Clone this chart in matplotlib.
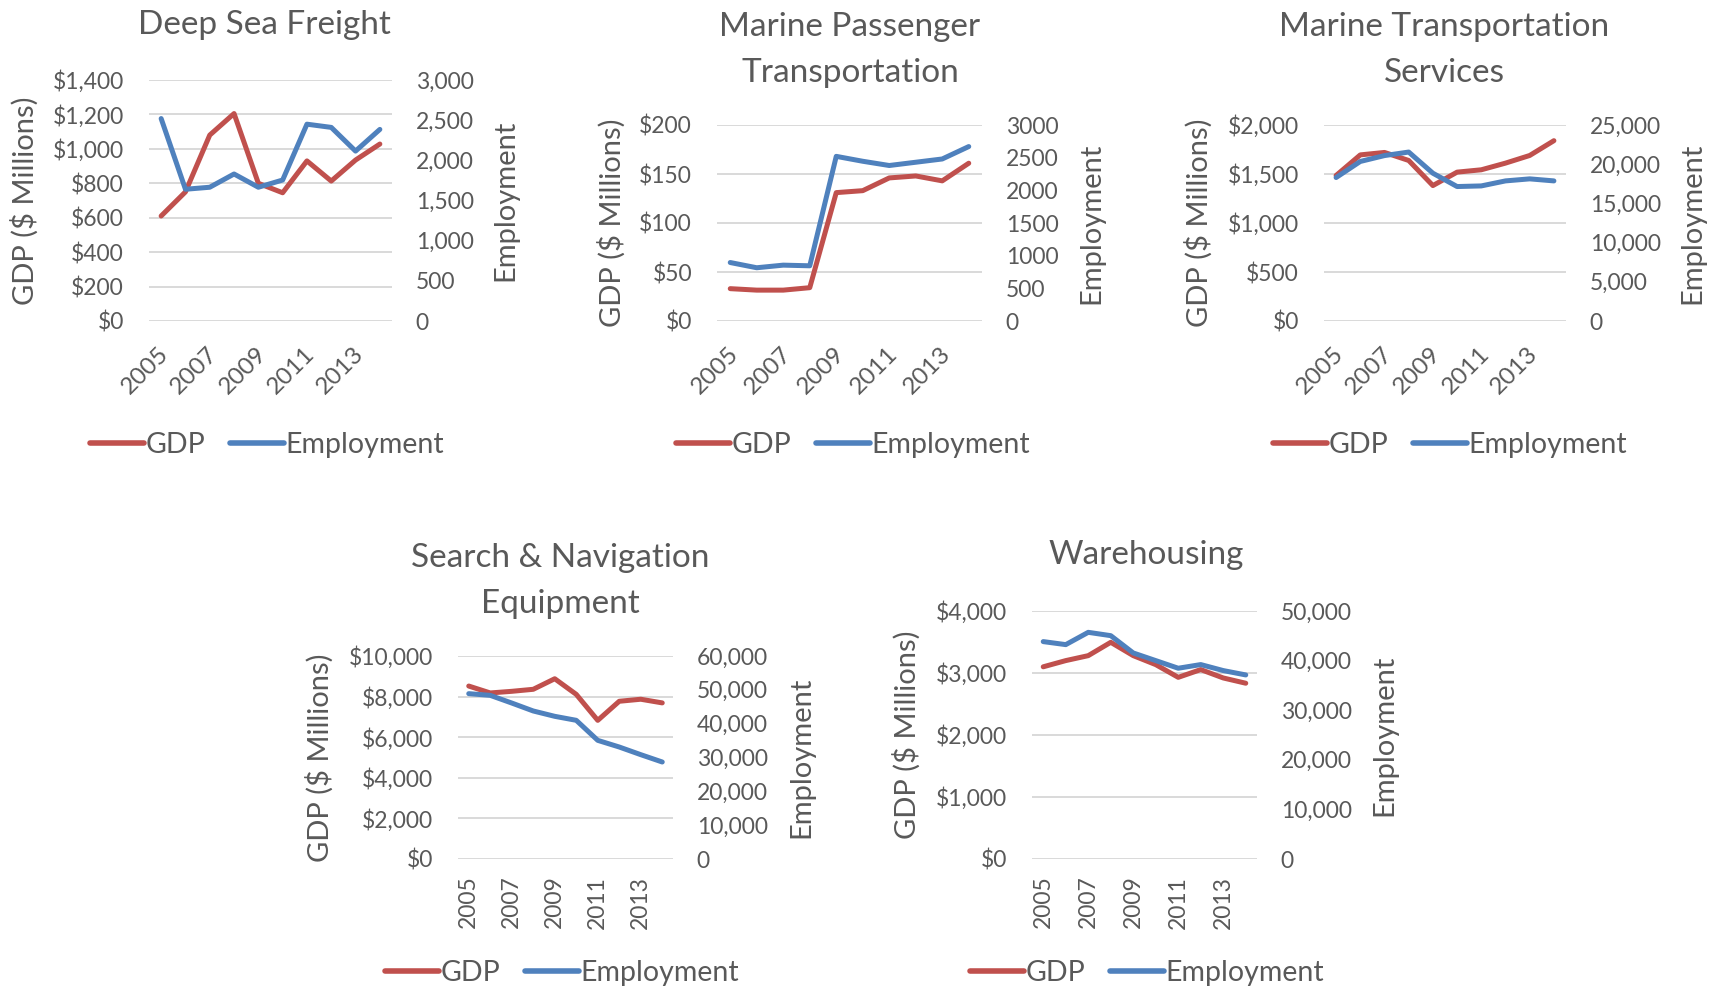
import numpy as np
import matplotlib
matplotlib.use("Agg")  # headless
import matplotlib.pyplot as plt
from matplotlib.ticker import FuncFormatter
from matplotlib.transforms import ScaledTranslation

years = list(range(2005, 2015))
year_labels = [str(y) if y % 2 == 1 else "" for y in years]

# GDP ($ millions) and employment per industry
deep_sea_gdp = [610, 750, 1080, 1205, 800, 745, 930, 813, 935, 1028]
deep_sea_emp = [2520, 1640, 1665, 1830, 1665, 1755, 2450, 2410, 2115, 2385]

passenger_gdp = [33, 31.5, 31.5, 34, 131, 133, 146, 148, 143, 161]
passenger_emp = [895, 815, 855, 845, 2520, 2445, 2380, 2430, 2480, 2670]

services_gdp = [1485, 1695, 1720, 1638, 1382, 1519, 1543, 1611, 1689, 1840]
services_emp = [18300, 20350, 21100, 21550, 18850, 17150, 17230, 17870, 18130, 17870]

search_gdp = [8520, 8180, 8260, 8360, 8880, 8110, 6830, 7770, 7870, 7690]
search_emp = [48870, 48370, 46100, 43750, 42170, 40990, 35070, 33100, 30840, 28670]

warehouse_gdp = [3100, 3200, 3280, 3495, 3280, 3135, 2930, 3055, 2920, 2835]
warehouse_emp = [43830, 43220, 45700, 45030, 41540, 40000, 38460, 39200, 37990, 37110]

RED = "#C0504D"
BLUE = "#4F81BD"
TXT = "#595959"
GRID = "#D9D9D9"

W, H = 1721, 990
plt.rcParams["font.family"] = ["Lato", "DejaVu Sans"]

fig = plt.figure(figsize=(W / 100, H / 100), dpi=100)


def px_axes(x0, x1, y0, y1):
    # pixel box (left, right, top, bottom) -> figure fraction
    return fig.add_axes([x0 / W, 1 - y1 / H, (x1 - x0) / W, (y1 - y0) / H])


def money(v, pos):
    return f"${v:,.0f}"


def panel(box, title, title_xy, gdp, emp, lmax, lstep, rmax, rstep,
          ylab_x, rlab_x, leg_xy, rot, comma=True):
    ax = px_axes(*box)
    ax2 = ax.twinx()
    x = np.arange(len(years))
    ax.plot(x, gdp, color=RED, lw=3.6, solid_capstyle="round", zorder=3)
    ax2.plot(x, emp, color=BLUE, lw=3.6, solid_capstyle="round", zorder=3)
    ax.set_xlim(-0.5, len(years) - 0.5)
    ax.set_ylim(0, lmax)
    ax2.set_ylim(0, rmax)
    ax.set_yticks(np.arange(0, lmax + 1, lstep))
    ax2.set_yticks(np.arange(0, rmax + 1, rstep))
    ax.yaxis.set_major_formatter(FuncFormatter(money))
    if comma:
        ax2.yaxis.set_major_formatter(FuncFormatter(lambda v, p: f"{v:,.0f}"))
    else:
        ax2.yaxis.set_major_formatter(FuncFormatter(lambda v, p: f"{v:.0f}"))
    ax.grid(axis="y", color=GRID, lw=1.4)
    ax.set_axisbelow(True)
    for a in (ax, ax2):
        for s in a.spines.values():
            s.set_visible(False)
        a.tick_params(length=0, labelsize=16.5, labelcolor=TXT)
    ax.tick_params(axis="y", pad=18)
    ax2.tick_params(axis="y", pad=17)
    ax.set_xticks(x)
    if rot == 45:
        ax.set_xticklabels(year_labels, rotation=45, ha="right", fontsize=17.5)
        ax.tick_params(axis="x", pad=16)
        shift = ScaledTranslation(0.12, 0, fig.dpi_scale_trans)
        for lab in ax.get_xticklabels():
            lab.set_transform(lab.get_transform() + shift)
    else:
        ax.set_xticklabels(year_labels, rotation=90, ha="center")
        ax.tick_params(axis="x", pad=12)

    yc = (box[2] + box[3]) / 2
    fig.text(ylab_x / W, 1 - yc / H, "GDP ($ Millions)", rotation=90,
             ha="center", va="center", fontsize=21, color=TXT)
    fig.text(rlab_x / W, 1 - yc / H, "Employment", rotation=90,
             ha="center", va="center", fontsize=21, color=TXT)
    fig.text(title_xy[0] / W, 1 - title_xy[1] / H, title, ha="center",
             va="center", fontsize=24, color=TXT, linespacing=1.65)

    h1, = ax.plot([], [], color=RED, lw=4, solid_capstyle="round")
    h2, = ax.plot([], [], color=BLUE, lw=4, solid_capstyle="round")
    fig.legend([h1, h2], ["GDP", "Employment"], loc="center",
               bbox_to_anchor=(leg_xy[0] / W, 1 - leg_xy[1] / H), ncol=2,
               frameon=False, fontsize=20.5, labelcolor=TXT, handlelength=1.9,
               handletextpad=0.05, columnspacing=0.85)


panel((149, 392, 80, 321), "Deep Sea Freight", (264, 25),
      deep_sea_gdp, deep_sea_emp, 1400, 200, 3000, 500, 25, 505, (267, 445), 45)
panel((717, 982, 125, 321), "Marine Passenger\nTransportation", (850, 50),
      passenger_gdp, passenger_emp, 200, 50, 3000, 500, 612, 1091, (853, 445), 45,
      comma=False)
panel((1324, 1566, 125, 321), "Marine Transportation\nServices", (1444, 50),
      services_gdp, services_emp, 2000, 500, 25000, 5000, 1199, 1692, (1450, 445), 45)
panel((458, 673, 656, 859), "Search & Navigation\nEquipment", (560, 581),
      search_gdp, search_emp, 10000, 2000, 60000, 10000, 320, 801, (562, 973), 90)
panel((1032, 1257, 611, 859), "Warehousing", (1146, 555),
      warehouse_gdp, warehouse_emp, 4000, 1000, 50000, 10000, 907, 1384, (1147, 973), 90)

fig.savefig("out.png", dpi=100, facecolor="white")
